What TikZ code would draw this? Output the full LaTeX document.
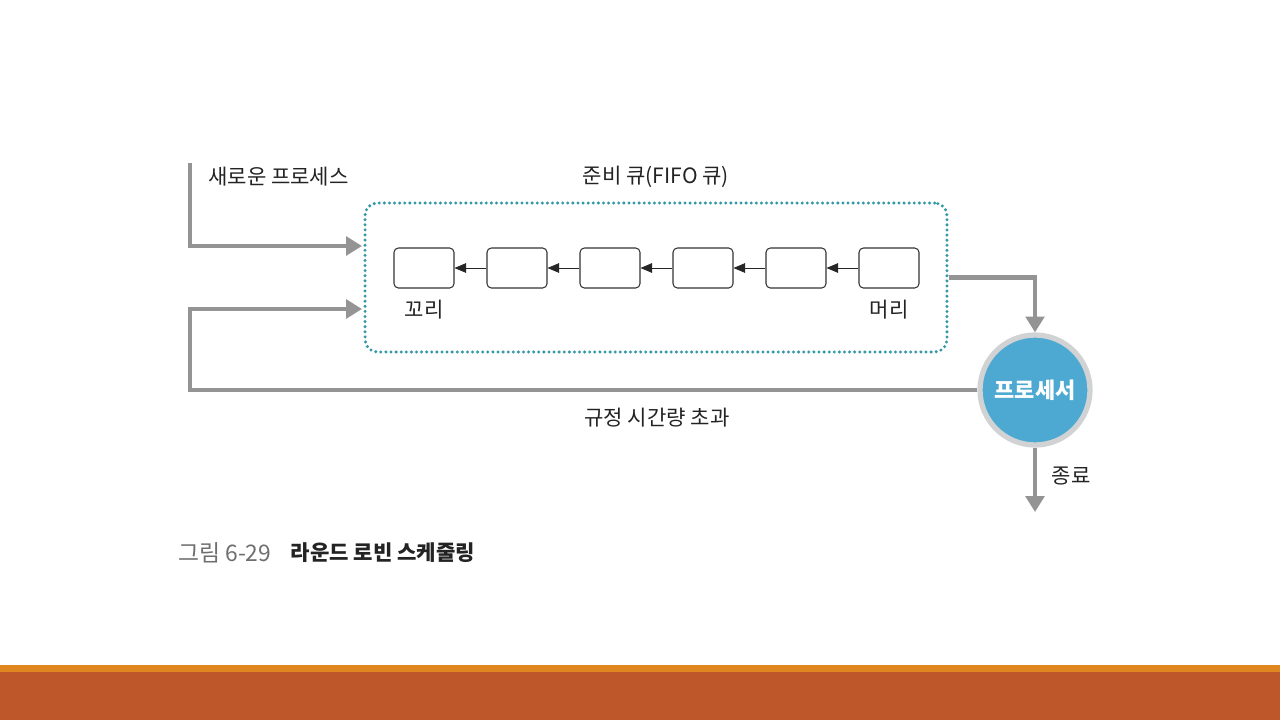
\documentclass[tikz,border=0pt]{standalone}
\usepackage{fontspec}
\setmainfont{Noto Sans CJK KR}
\usepackage{tikz}
\usetikzlibrary{arrows,arrows.meta,positioning,shapes}

\definecolor{flowgray}{RGB}{148,148,148}
\definecolor{dotteal}{RGB}{52,152,166}
\definecolor{cpublue}{RGB}{77,169,209}
\definecolor{ringgray}{RGB}{208,210,212}
\definecolor{stripe}{RGB}{224,134,30}
\definecolor{footer}{RGB}{190,88,43}
\definecolor{captiongray}{RGB}{110,110,110}
\definecolor{textdark}{RGB}{35,35,35}

\begin{document}
\begin{tikzpicture}[x=0.02cm,y=-0.02cm,
		font=\fontsize{12}{14}\selectfont,
		every node/.style={text=textdark},
		slot/.style={draw=black!80,rounded corners=2.5pt,minimum width=1.2cm,minimum height=0.8cm,line width=0.6pt},
		link/.style={->,>=triangle 45,line width=0.5pt,black!85},
		flow/.style={-{Triangle[length=9pt,width=10.5pt]},line width=2.8pt,flowgray},
		queuebox/.style={draw=dotteal,line width=1.9pt,line cap=round,dash pattern=on 0pt off 2.9pt,rounded corners=7pt,minimum width=11.64cm,minimum height=2.98cm},
		cpu/.style={circle,fill=cpublue,draw=ringgray,line width=3pt,minimum size=2.2cm,text=white,font=\fontsize{12.5}{14}\selectfont\bfseries}]
	\useasboundingbox (0,0) rectangle (1280,720);

	% footer band
	\fill[stripe] (0,665) rectangle (1280,672);
	\fill[footer] (0,672) rectangle (1280,720);

	% ready queue
	\node[queuebox] (queue) at (656,277.5) {};
	\node[above=0.15cm of queue] (qtitle) {준비 큐(FIFO 큐)};

	\node[slot] (b1) at (424,268) {};
	\node[slot] (b2) at (517,268) {};
	\node[slot] (b3) at (610,268) {};
	\node[slot] (b4) at (703,268) {};
	\node[slot] (b5) at (796,268) {};
	\node[slot] (b6) at (889,268) {};
	\foreach \a/\b in {b2/b1,b3/b2,b4/b3,b5/b4,b6/b5}
		\draw[link] (\a.west) -- (\b.east);

	\node[below=3pt of b1] (tail) {꼬리};
	\node[below=3pt of b6] (head) {머리};

	% processor
	\node[cpu] (proc) at (1035,390) {프로세서};

	\coordinate (newtop) at (190,163);
	\coordinate (in1) at (362,246);
	\coordinate (in2) at (362,309);
	\coordinate (back) at (190,309);
	\coordinate (done) at (1035,512);

	\node[anchor=west] (newlbl) at (202,177) {새로운 프로세스};

	\draw[flow] (newtop) |- (in1);
	\draw[flow] (queue.east) -| (proc.north);
	\draw[flow] (proc.west) -| (back) -- (in2);
	\draw[flow] (proc.south) -- (done);

	\node (timeout) at (657,418) {규정 시간량 초과};
	\node (endlbl) at (1071,476) {종료};

	% caption
	\node[anchor=west,text=captiongray,font=\fontsize{13}{15}\selectfont] (capnum) at (172,553) {그림 6-29};
	\node[right=4pt of capnum,font=\fontsize{12}{14}\selectfont\bfseries] (captitle) {라운드 로빈 스케줄링};
\end{tikzpicture}
\end{document}
